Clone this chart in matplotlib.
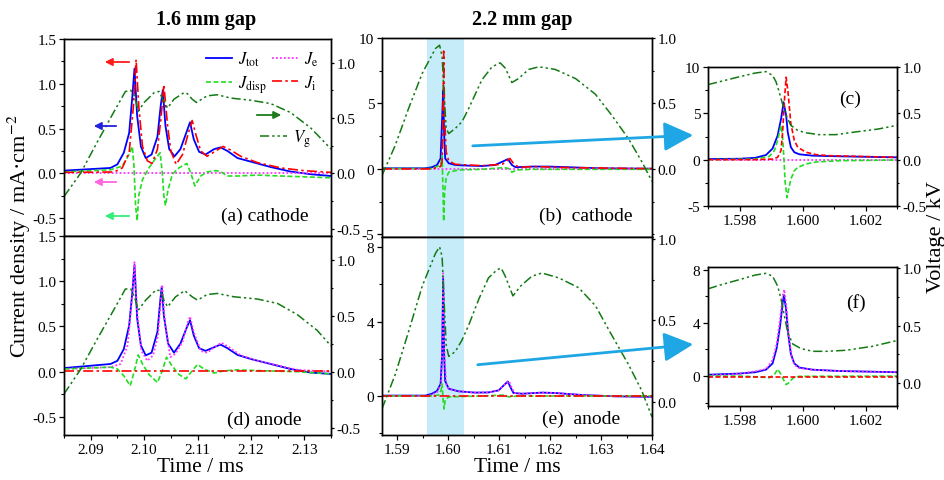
import matplotlib
matplotlib.use("Agg")
import matplotlib.pyplot as plt
from matplotlib.lines import Line2D
from matplotlib.patches import FancyArrowPatch
from matplotlib.ticker import MultipleLocator, FixedLocator, FormatStrFormatter

# ---------------- data ----------------
# 1.6 mm gap, cathode (a)
a_tot_t = [2.0850, 2.0937, 2.0950, 2.0962, 2.0972, 2.0978, 2.0982, 2.0987, 2.0994, 2.1003, 2.1014,
           2.1025, 2.1031, 2.1035, 2.1040, 2.1047, 2.1057, 2.1068, 2.1080, 2.1086, 2.1093, 2.1103,
           2.1115, 2.1131, 2.1143, 2.1156, 2.1175, 2.1200, 2.1237, 2.1274, 2.1312, 2.1350]
a_tot = [0.03, 0.06, 0.10, 0.23, 0.45, 0.86, 1.17, 0.64, 0.30, 0.17, 0.21, 0.41, 0.75, 0.93, 0.53,
         0.27, 0.19, 0.27, 0.47, 0.57, 0.38, 0.24, 0.21, 0.27, 0.29, 0.25, 0.17, 0.13, 0.07, 0.02,
         -0.01, -0.03]
a_ji_t = [2.0850, 2.0944, 2.0959, 2.0972, 2.0980, 2.0985, 2.0990, 2.0997, 2.1006, 2.1015, 2.1025,
          2.1032, 2.1037, 2.1044, 2.1050, 2.1060, 2.1072, 2.1082, 2.1090, 2.1098, 2.1106, 2.1118,
          2.1134, 2.1148, 2.1162, 2.1181, 2.1212, 2.1256, 2.1299, 2.1350]
a_ji = [0.01, 0.015, 0.06, 0.23, 0.75, 1.27, 0.75, 0.30, 0.14, 0.11, 0.27, 0.64, 0.99, 0.53, 0.25,
        0.10, 0.21, 0.43, 0.59, 0.41, 0.25, 0.19, 0.25, 0.30, 0.26, 0.19, 0.12, 0.06, 0.03, 0.01]
a_jd_t = [2.0850, 2.0937, 2.0959, 2.0972, 2.0978, 2.0981, 2.0984, 2.0987, 2.0990, 2.0997, 2.1009,
          2.1022, 2.1030, 2.1034, 2.1037, 2.1040, 2.1045, 2.1053, 2.1065, 2.1080, 2.1087, 2.1095,
          2.1106, 2.1118, 2.1134, 2.1143, 2.1156, 2.1175, 2.1212, 2.1256, 2.1350]
a_jd = [0.015, 0.04, 0.08, 0.21, 0.30, 0.08, -0.36, -0.53, -0.25, -0.07, 0.06, 0.17, 0.23, 0.01,
        -0.25, -0.36, -0.18, -0.01, 0.06, 0.11, 0.01, -0.14, -0.03, 0.015, 0.03, 0.02, -0.03,
        -0.03, -0.02, -0.03, -0.05]
a_je_t = [2.0850, 2.1350]
a_je = [0.0, 0.0]
a_vg_t = [2.0850, 2.0881, 2.0912, 2.0944, 2.0965, 2.0975, 2.0982, 2.0989, 2.1000, 2.1019, 2.1028,
          2.1037, 2.1044, 2.1056, 2.1075, 2.1081, 2.1090, 2.1098, 2.1118, 2.1137, 2.1162, 2.1200,
          2.1237, 2.1274, 2.1312, 2.1350]
a_vg = [-0.21, 0.0, 0.28, 0.56, 0.74, 0.75, 0.70, 0.56, 0.64, 0.73, 0.74, 0.65, 0.59, 0.67, 0.73,
        0.72, 0.67, 0.64, 0.70, 0.71, 0.68, 0.66, 0.63, 0.55, 0.41, 0.22]

# 1.6 mm gap, anode (d)
d_tot_t = [2.0850, 2.0937, 2.0950, 2.0962, 2.0972, 2.0978, 2.0982, 2.0987, 2.0994, 2.1003, 2.1014,
           2.1025, 2.1030, 2.1033, 2.1037, 2.1045, 2.1056, 2.1068, 2.1080, 2.1086, 2.1093, 2.1103,
           2.1115, 2.1131, 2.1143, 2.1156, 2.1175, 2.1200, 2.1237, 2.1274, 2.1312, 2.1350]
d_tot = [0.04, 0.085, 0.12, 0.25, 0.51, 0.88, 1.18, 0.59, 0.29, 0.18, 0.21, 0.44, 0.77, 0.94, 0.62,
         0.31, 0.21, 0.31, 0.49, 0.57, 0.40, 0.26, 0.23, 0.27, 0.30, 0.26, 0.185, 0.14, 0.085,
         0.03, -0.01, -0.025]
d_je_t = [2.0850, 2.0937, 2.0956, 2.0969, 2.0978, 2.0982, 2.0987, 2.0995, 2.1006, 2.1017, 2.1026,
          2.1031, 2.1034, 2.1039, 2.1049, 2.1059, 2.1072, 2.1081, 2.1086, 2.1093, 2.1106, 2.1118,
          2.1134, 2.1145, 2.1159, 2.1181, 2.1212, 2.1250, 2.1287, 2.1350]
d_je = [0.03, 0.05, 0.085, 0.29, 0.84, 1.21, 0.66, 0.23, 0.12, 0.18, 0.40, 0.77, 0.96, 0.55, 0.16,
        0.20, 0.33, 0.53, 0.61, 0.44, 0.23, 0.21, 0.28, 0.32, 0.27, 0.18, 0.12, 0.07, 0.02, 0.0]
d_jd_t = [2.0850, 2.0937, 2.0950, 2.0962, 2.0974, 2.0981, 2.0989, 2.0997, 2.1009, 2.1025, 2.1034,
          2.1042, 2.1050, 2.1065, 2.1078, 2.1090, 2.1100, 2.1112, 2.1131, 2.1150, 2.1175, 2.1225,
          2.1287, 2.1350]
d_jd = [0.03, 0.05, 0.03, -0.045, -0.155, -0.01, 0.185, 0.085, -0.03, -0.12, 0.01, 0.16, 0.085,
        -0.03, -0.08, 0.01, 0.08, 0.03, -0.015, 0.01, 0.02, 0.01, 0.0, -0.025]
d_ji_t = [2.0850, 2.1350]
d_ji = [0.01, 0.01]
d_vg_t = [2.0850, 2.0881, 2.0912, 2.0944, 2.0965, 2.0975, 2.0982, 2.0989, 2.1003, 2.1022, 2.1031,
          2.1037, 2.1044, 2.1059, 2.1076, 2.1090, 2.1100, 2.1118, 2.1137, 2.1168, 2.1212, 2.1250,
          2.1287, 2.1324, 2.1350]
d_vg = [-0.20, 0.02, 0.29, 0.56, 0.74, 0.74, 0.67, 0.55, 0.64, 0.73, 0.725, 0.64, 0.58, 0.67,
        0.725, 0.67, 0.64, 0.69, 0.70, 0.67, 0.65, 0.61, 0.51, 0.37, 0.23]

# 2.2 mm gap, cathode (b)
b_tot_t = [1.5870, 1.5955, 1.5968, 1.5978, 1.5985, 1.5988, 1.5990, 1.5992, 1.5994, 1.6001, 1.6014,
           1.6040, 1.6066, 1.6092, 1.6109, 1.6117, 1.6125, 1.6132, 1.6164, 1.6197, 1.6236, 1.6295,
           1.6400]
b_tot = [0.05, 0.05, 0.13, 0.3, 0.8, 3.8, 6.0, 2.6, 0.8, 0.43, 0.3, 0.25, 0.22, 0.3, 0.6, 0.75,
         0.3, 0.13, 0.18, 0.18, 0.13, 0.05, 0.02]
b_ji_t = [1.5870, 1.5968, 1.5985, 1.5988, 1.5990, 1.5991, 1.5993, 1.5996, 1.6001, 1.6014, 1.6066,
          1.6106, 1.6121, 1.6128, 1.6138, 1.6171, 1.6236, 1.6400]
b_ji = [0.0, 0.0, 0.18, 0.55, 5.1, 9.0, 3.8, 1.3, 0.6, 0.35, 0.25, 0.35, 0.8, 0.43, 0.13, 0.18,
        0.1, 0.02]
b_jd_t = [1.5870, 1.5968, 1.5985, 1.5988, 1.5990, 1.5991, 1.5993, 1.5996, 1.6001, 1.6020, 1.6066,
          1.6109, 1.6117, 1.6125, 1.6135, 1.6164, 1.6400]
b_jd = [0.03, 0.03, 0.3, 1.0, -2.0, -4.0, -1.7, -0.7, -0.25, -0.08, -0.03, 0.1, 0.05, -0.25,
        -0.08, -0.03, -0.03]
b_je_t = [1.5870, 1.6400]
b_je = [0.0, 0.0]
b_vg_t = [1.5870, 1.5896, 1.5922, 1.5949, 1.5975, 1.5983, 1.5988, 1.5992, 1.5996, 1.6001, 1.6014,
          1.6027, 1.6040, 1.6053, 1.6066, 1.6086, 1.6102, 1.6112, 1.6125, 1.6138, 1.6158, 1.6178,
          1.6210, 1.6250, 1.6289, 1.6321, 1.6354, 1.6380, 1.6400]
b_vg = [-0.05, 0.18, 0.46, 0.73, 0.92, 0.945, 0.86, 0.56, 0.31, 0.27, 0.31, 0.36, 0.46, 0.57,
        0.68, 0.78, 0.81, 0.77, 0.66, 0.69, 0.76, 0.78, 0.76, 0.69, 0.57, 0.41, 0.23, 0.055, -0.095]

# 2.2 mm gap, anode (e)
e_tot_t = [1.5870, 1.5955, 1.5968, 1.5978, 1.5985, 1.5988, 1.5990, 1.5992, 1.5994, 1.6001, 1.6020,
           1.6053, 1.6079, 1.6099, 1.6112, 1.6117, 1.6122, 1.6128, 1.6145, 1.6184, 1.6210, 1.6263,
           1.6328, 1.6400]
e_tot = [0.02, 0.02, 0.12, 0.27, 0.65, 2.2, 6.3, 2.2, 0.8, 0.39, 0.25, 0.18, 0.19, 0.3, 0.65, 0.78,
         0.48, 0.16, 0.12, 0.18, 0.16, 0.05, -0.02, -0.05]
e_je_t = [1.5870, 1.5962, 1.5978, 1.5986, 1.5989, 1.5990, 1.5992, 1.5996, 1.6001, 1.6020, 1.6053,
          1.6079, 1.6099, 1.6112, 1.6119, 1.6124, 1.6130, 1.6145, 1.6184, 1.6210, 1.6263, 1.6328,
          1.6400]
e_je = [0.0, 0.0, 0.2, 0.65, 3.1, 6.6, 2.6, 0.65, 0.39, 0.25, 0.18, 0.19, 0.3, 0.65, 0.8, 0.48,
        0.16, 0.12, 0.18, 0.16, 0.05, -0.02, -0.05]
e_jd_t = [1.5870, 1.5968, 1.5981, 1.5986, 1.5988, 1.5990, 1.5992, 1.5994, 1.6001, 1.6066, 1.6109,
          1.6119, 1.6138, 1.6400]
e_jd = [0.0, 0.0, 0.05, 0.3, 0.65, -0.22, -0.7, -0.22, -0.05, 0.0, 0.05, -0.05, 0.0, 0.0]
e_ji_t = [1.5870, 1.6400]
e_ji = [0.0, 0.0]
e_vg_t = [1.5870, 1.5896, 1.5922, 1.5949, 1.5975, 1.5983, 1.5988, 1.5992, 1.5996, 1.6001, 1.6014,
          1.6027, 1.6040, 1.6060, 1.6079, 1.6096, 1.6104, 1.6112, 1.6127, 1.6142, 1.6164, 1.6184,
          1.6217, 1.6256, 1.6289, 1.6321, 1.6354, 1.6380, 1.6400]
e_vg = [-0.04, 0.17, 0.43, 0.71, 0.91, 0.95, 0.89, 0.61, 0.35, 0.28, 0.31, 0.38, 0.47, 0.63, 0.76,
        0.81, 0.82, 0.77, 0.65, 0.71, 0.77, 0.79, 0.76, 0.70, 0.59, 0.41, 0.23, 0.07, -0.09]

# zoom of the first peak, cathode (c)
c_tot_t = [1.5970, 1.5980, 1.5985, 1.59884, 1.59905, 1.59921, 1.59932, 1.59940, 1.59948, 1.59953,
           1.59963, 1.59974, 1.59990, 1.60032, 1.60117, 1.6030]
c_tot = [0.07, 0.1, 0.2, 0.5, 1.2, 2.6, 4.4, 6.2, 4.8, 3.0, 1.35, 0.8, 0.58, 0.43, 0.36, 0.25]
c_ji_t = [1.5970, 1.5985, 1.59905, 1.59921, 1.59932, 1.59937, 1.59943, 1.59948, 1.59954, 1.59963,
          1.59974, 1.59985, 1.60011, 1.60043, 1.60085, 1.60170, 1.6030]
c_ji = [0.0, 0.0, 0.07, 0.25, 1.0, 3.0, 6.6, 8.9, 7.3, 3.9, 2.07, 1.34, 0.8, 0.54, 0.43, 0.36, 0.25]
c_jd_t = [1.5970, 1.5985, 1.59895, 1.59911, 1.59921, 1.59932, 1.59937, 1.59941, 1.59945, 1.59951,
          1.59956, 1.59963, 1.59974, 1.59985, 1.60011, 1.60043, 1.60117, 1.6030]
c_jd = [0.0, 0.07, 0.36, 1.0, 2.07, 3.7, 2.4, 0.07, -2.46, -4.1, -3.2, -2.1, -1.2, -0.83, -0.47,
        -0.25, -0.11, -0.04]
c_je_t = [1.5970, 1.6030]
c_je = [0.0, 0.0]
c_vg_t = [1.5970, 1.5980, 1.5985, 1.59884, 1.59905, 1.59916, 1.59926, 1.59935, 1.59948, 1.59963,
          1.59985, 1.60011, 1.60053, 1.60106, 1.60170, 1.60239, 1.6030]
c_vg = [0.81, 0.895, 0.935, 0.95, 0.91, 0.84, 0.73, 0.62, 0.48, 0.37, 0.315, 0.29, 0.27, 0.27,
        0.30, 0.33, 0.37]

# zoom of the first peak, anode (f)
f_tot_t = [1.5970, 1.5980, 1.5985, 1.59884, 1.59905, 1.59918, 1.59929, 1.59937, 1.59941, 1.59948,
           1.59955, 1.59963, 1.59974, 1.59990, 1.60032, 1.60117, 1.6030]
f_tot = [0.1, 0.19, 0.29, 0.48, 0.95, 2.1, 3.8, 5.5, 6.1, 5.0, 3.1, 1.67, 0.95, 0.64, 0.48, 0.38, 0.29]
f_je_t = [1.5970, 1.5980, 1.5985, 1.59884, 1.59905, 1.59918, 1.59929, 1.59937, 1.59942, 1.59949,
          1.59956, 1.59965, 1.59974, 1.59990, 1.60032, 1.60117, 1.6030]
f_je = [0.05, 0.17, 0.36, 0.52, 1.2, 2.4, 4.3, 6.0, 6.5, 5.2, 3.1, 1.55, 0.83, 0.6, 0.48, 0.38, 0.29]
f_jd_t = [1.5970, 1.5980, 1.5985, 1.59895, 1.59911, 1.59921, 1.59932, 1.59939, 1.59948, 1.59958,
          1.59971, 1.59990, 1.6030]
f_jd = [0.0, 0.0, -0.05, -0.12, 0.12, 0.52, 0.12, -0.24, -0.64, -0.48, -0.12, -0.02, 0.0]
f_ji_t = [1.5970, 1.6030]
f_ji = [-0.05, -0.05]
f_vg_t = [1.5970, 1.59747, 1.5980, 1.5985, 1.59884, 1.59905, 1.59921, 1.59932, 1.59942, 1.59953,
          1.59969, 1.59995, 1.60032, 1.60075, 1.60138, 1.60223, 1.6030]
f_vg = [0.82, 0.86, 0.90, 0.94, 0.955, 0.93, 0.845, 0.73, 0.59, 0.44, 0.34, 0.30, 0.276, 0.276,
        0.285, 0.32, 0.37]

# ---------------- styling ----------------
plt.rcParams['font.family'] = ['Liberation Serif', 'DejaVu Serif']
plt.rcParams['mathtext.fontset'] = 'stix'
plt.rcParams['axes.unicode_minus'] = False
plt.rcParams['font.size'] = 11

W, H = 945, 481
STY = {
    'tot': dict(color='#0000ff', ls='-', lw=1.3),
    'je': dict(color='#ff33ff', ls=(0, (1, 1.2)), lw=1.3),
    'jd': dict(color='#22dd22', ls=(0, (3, 1.5)), lw=1.2),
    'ji': dict(color='#ff0000', ls=(0, (6, 2, 1.5, 2)), lw=1.2),
    'ji_zoom': dict(color='#ff0000', ls=(0, (3, 1.5)), lw=1.2),
    'vg': dict(color='#137a13', ls=(0, (6, 2, 1.5, 2, 1.5, 2)), lw=1.1),
}


def frac(x, y):
    # pixel position (from top-left) -> figure fraction
    return (x / W, 1 - y / H)


def rect(l, t, r, b):
    return [l / W, 1 - b / H, (r - l) / W, (b - t) / H]


def panel(pos, tot, je, jd, ji, vg, ji_style='ji'):
    ax = fig.add_axes(pos)
    ax.plot(*tot, **STY['tot'])
    ax.plot(*je, **STY['je'])
    ax.plot(*jd, **STY['jd'])
    ax.plot(*ji, **STY[ji_style])
    ax2 = ax.twinx()
    ax2.plot(*vg, **STY['vg'])
    ax.tick_params(which='major', length=3.5, width=0.9, direction='out', labelsize=11, pad=2)
    ax.tick_params(which='minor', length=2, width=0.8, direction='out')
    ax2.tick_params(which='major', length=2.5, width=0.9, direction='out', labelsize=11, pad=1.5)
    ax2.tick_params(which='minor', length=1.5, width=0.8, direction='out')
    for a in (ax, ax2):
        for s in a.spines.values():
            s.set_linewidth(1.0)
    return ax, ax2


fig = plt.figure(figsize=(W / 100, H / 100), dpi=100)

# (a) and (d)
ax_a, ax_a2 = panel(rect(64, 40, 331, 237), (a_tot_t, a_tot), (a_je_t, a_je), (a_jd_t, a_jd),
                    (a_ji_t, a_ji), (a_vg_t, a_vg))
ax_d, ax_d2 = panel(rect(64, 237, 331, 436), (d_tot_t, d_tot), (d_je_t, d_je), (d_jd_t, d_jd),
                    (d_ji_t, d_ji), (d_vg_t, d_vg))
for ax, ax2 in ((ax_a, ax_a2), (ax_d, ax_d2)):
    ax.set_xlim(2.085, 2.135)
    ax.set_ylim(-0.7, 1.5)
    ax2.set_ylim(-0.567, 1.214)
    ax.xaxis.set_major_locator(MultipleLocator(0.01))
    ax.xaxis.set_minor_locator(MultipleLocator(0.005))
    ax.xaxis.set_major_formatter(FormatStrFormatter('%.2f'))
    ax.yaxis.set_major_locator(MultipleLocator(0.5))
    ax.yaxis.set_minor_locator(MultipleLocator(0.25))
    ax.yaxis.set_major_formatter(FormatStrFormatter('%.1f'))
    ax2.yaxis.set_major_locator(MultipleLocator(0.5))
    ax2.yaxis.set_minor_locator(MultipleLocator(0.25))
    ax2.yaxis.set_major_formatter(FormatStrFormatter('%.1f'))
ax_a.tick_params(axis='x', which='both', labelbottom=False)

# (b) and (e)
ax_b, ax_b2 = panel(rect(382, 39, 652, 238), (b_tot_t, b_tot), (b_je_t, b_je), (b_jd_t, b_jd),
                    (b_ji_t, b_ji), (b_vg_t, b_vg))
ax_e, ax_e2 = panel(rect(382, 238, 652, 436), (e_tot_t, e_tot), (e_je_t, e_je), (e_jd_t, e_jd),
                    (e_ji_t, e_ji), (e_vg_t, e_vg))
for ax, ax2 in ((ax_b, ax_b2), (ax_e, ax_e2)):
    ax.set_xlim(1.587, 1.640)
    ax.axvspan(1.5958, 1.6030, color='#c6ecf9', lw=0, zorder=0)
    ax.xaxis.set_major_locator(MultipleLocator(0.01))
    ax.xaxis.set_minor_locator(MultipleLocator(0.005))
    ax.xaxis.set_major_formatter(FormatStrFormatter('%.2f'))
    ax.yaxis.set_major_formatter(FormatStrFormatter('%d'))
    ax2.yaxis.set_major_locator(FixedLocator([0.0, 0.5, 1.0]))
    ax2.yaxis.set_minor_locator(MultipleLocator(0.25))
    ax2.yaxis.set_major_formatter(FormatStrFormatter('%.1f'))
ax_b.set_ylim(-5.2, 10)
ax_b2.set_ylim(-0.52, 1.0)
ax_b.yaxis.set_major_locator(MultipleLocator(5))
ax_b.yaxis.set_minor_locator(MultipleLocator(2.5))
ax_b.tick_params(axis='x', which='both', labelbottom=False)
ax_e.set_ylim(-2.1, 8.55)
ax_e2.set_ylim(-0.2, 1.01)
ax_e.yaxis.set_major_locator(MultipleLocator(4))
ax_e.yaxis.set_minor_locator(MultipleLocator(2))

# (c) and (f)
ax_c, ax_c2 = panel(rect(708, 68, 897, 207), (c_tot_t, c_tot), (c_je_t, c_je), (c_jd_t, c_jd),
                    (c_ji_t, c_ji), (c_vg_t, c_vg), ji_style='ji_zoom')
ax_f, ax_f2 = panel(rect(708, 268, 897, 407), (f_tot_t, f_tot), (f_je_t, f_je), (f_jd_t, f_jd),
                    (f_ji_t, f_ji), (f_vg_t, f_vg), ji_style='ji_zoom')
for ax, ax2 in ((ax_c, ax_c2), (ax_f, ax_f2)):
    ax.set_xlim(1.597, 1.603)
    ax.xaxis.set_major_locator(MultipleLocator(0.002))
    ax.xaxis.set_minor_locator(MultipleLocator(0.001))
    ax.xaxis.set_major_formatter(FormatStrFormatter('%.3f'))
    ax.yaxis.set_major_formatter(FormatStrFormatter('%d'))
    ax2.yaxis.set_major_locator(MultipleLocator(0.5))
    ax2.yaxis.set_minor_locator(MultipleLocator(0.25))
    ax2.yaxis.set_major_formatter(FormatStrFormatter('%.1f'))
ax_c.set_ylim(-5, 10)
ax_c2.set_ylim(-0.5, 1.0)
ax_c.yaxis.set_major_locator(MultipleLocator(5))
ax_c.yaxis.set_minor_locator(MultipleLocator(2.5))
ax_f.set_ylim(-2.25, 8.2)
ax_f2.set_ylim(-0.2, 1.01)
ax_f.yaxis.set_major_locator(MultipleLocator(4))
ax_f.yaxis.set_minor_locator(MultipleLocator(2))
ax_f2.yaxis.set_major_locator(FixedLocator([0.0, 0.5, 1.0]))

# legends in (a)
h = {k: Line2D([], [], **STY[k]) for k in STY}
ax_a.legend([h['tot'], h['jd'], h['je'], h['ji']],
            [r'$J_{\rm tot}$', r'$J_{\rm disp}$', r'$J_{\rm e}$', r'$J_{\rm i}$'],
            ncol=2, loc='upper left', bbox_to_anchor=(0.53, 0.945), frameon=False, fontsize=12,
            handlelength=1.6, handletextpad=0.35, columnspacing=0.3, labelspacing=0.3,
            borderpad=0.0, borderaxespad=0)
ax_a2.legend([h['vg']], [r'$V_{\rm g}$'], loc='center left', bbox_to_anchor=(0.735, 0.497),
             frameon=False, fontsize=12, handlelength=1.6, handletextpad=0.35,
             borderpad=0.0, borderaxespad=0)

# axis arrows in (a)
for (x0, x1, y, col) in [(132, 102, 63, '#ff1a1a'), (119, 91, 127, '#2222dd'),
                         (254, 284, 116, '#1c7c1c'), (119, 91, 183, '#ff66dd'),
                         (132, 102, 217, '#33ee77')]:
    fig.add_artist(FancyArrowPatch(frac(x0, y), frac(x1, y), transform=fig.transFigure,
                                   arrowstyle='-|>', mutation_scale=11, lw=1.3, color=col))

# zoom arrows
for (x0, y0, x1, y1) in [(470, 147, 696, 136), (475, 366, 696, 345)]:
    fig.add_artist(FancyArrowPatch(frac(x0, y0), frac(x1, y1), transform=fig.transFigure,
                                   arrowstyle='-|>,head_length=0.9,head_width=0.45',
                                   mutation_scale=20, lw=2.0, color='#1ea7e4'))

# texts
fig.text(*frac(206, 20), '1.6 mm gap', ha='center', va='center', fontsize=14.5, fontweight='bold')
fig.text(*frac(522, 20), '2.2 mm gap', ha='center', va='center', fontsize=14.5, fontweight='bold')
fig.text(*frac(221, 216), '(a) cathode', ha='left', va='center', fontsize=14)
fig.text(*frac(227, 420), '(d) anode', ha='left', va='center', fontsize=14)
fig.text(*frac(539, 216), '(b)  cathode', ha='left', va='center', fontsize=14)
fig.text(*frac(542, 419), '(e)  anode', ha='left', va='center', fontsize=14)
fig.text(*frac(839, 99), '(c)', ha='left', va='center', fontsize=14)
fig.text(*frac(846, 303), '(f)', ha='left', va='center', fontsize=14)
fig.text(*frac(200, 468), 'Time / ms', ha='center', va='center', fontsize=15.5)
fig.text(*frac(517, 468), 'Time / ms', ha='center', va='center', fontsize=15.5)
fig.text(*frac(19, 236), 'Current density / mA·cm$^{-2}$', rotation=90, ha='center', va='center',
         fontsize=16)
fig.text(*frac(937, 237), 'Voltage / kV', rotation=90, ha='center', va='center', fontsize=16)

fig.savefig('out.png', dpi=100)
